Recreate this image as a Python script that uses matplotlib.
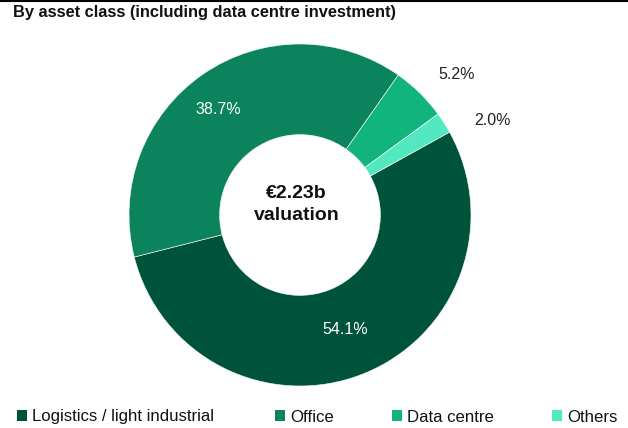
import matplotlib
matplotlib.use("Agg")
import matplotlib.pyplot as plt
from matplotlib.patches import Patch
from matplotlib.lines import Line2D
import numpy as np

categories = ["Logistics / light industrial", "Office", "Data centre", "Others"]
values = [54.1, 38.7, 5.2, 2.0]
pct_labels = ["54.1%", "38.7%", "5.2%", "2.0%"]
colors = ["#00533b", "#0b835c", "#10b47c", "#52e8c0"]
title = "By asset class (including data centre investment)"
center_text = "€2.23b\nvaluation"

plt.rcParams['font.family'] = ['Liberation Sans', 'DejaVu Sans']

W, H = 628, 428
fig = plt.figure(figsize=(W / 100, H / 100), dpi=100)

# top rule
fig.add_artist(Line2D([0, 1], [1 - 1 / H, 1 - 1 / H], color="black", lw=1.5,
                      transform=fig.transFigure))

fig.text(13 / W, 1 - 13 / H, title, fontsize=11.8, fontweight="bold",
         ha="left", va="center", color="#111111")

cx, cy, R = 300, 215, 171
ax = fig.add_axes([(cx - R) / W, (H - cy - R) / H, 2 * R / W, 2 * R / H])

start = 29
wedges, _ = ax.pie(values, colors=colors, startangle=start, counterclock=False,
                   radius=1.0, wedgeprops=dict(width=0.53, edgecolor="#ffffff",
                                               linewidth=0.4))
ax.set_xlim(-1, 1)
ax.set_ylim(-1, 1)
ax.set_aspect("equal")
ax.axis("off")

label_r = [0.72, 0.78, 1.23, 1.255]
label_shift = [0, 3, -3.5, -6.5]
label_col = ["white", "white", "#222222", "#222222"]
for w, lab, r, s, c in zip(wedges, pct_labels, label_r, label_shift, label_col):
    mid = np.deg2rad((w.theta1 + w.theta2) / 2 + s)
    ax.text(r * np.cos(mid), r * np.sin(mid), lab, ha="center", va="center",
            fontsize=11.5, color=c, clip_on=False)

ax.text(-0.02, 0.06, center_text, ha="center", va="center", fontsize=14,
        fontweight="bold", linespacing=1.42, color="#111111")

leg_x = [17, 275, 392, 552]
for name, col, x in zip(categories, colors, leg_x):
    h = Patch(facecolor=col, edgecolor="none")
    leg = fig.legend([h], [name], loc="center left",
                     bbox_to_anchor=(x / W, 1 - 417 / H), frameon=False,
                     fontsize=12.1, handlelength=0.62, handleheight=0.62,
                     handletextpad=0.3, borderpad=0, borderaxespad=0)
    for t in leg.get_texts():
        t.set_color("#111111")

fig.savefig("out.png", dpi=100)
